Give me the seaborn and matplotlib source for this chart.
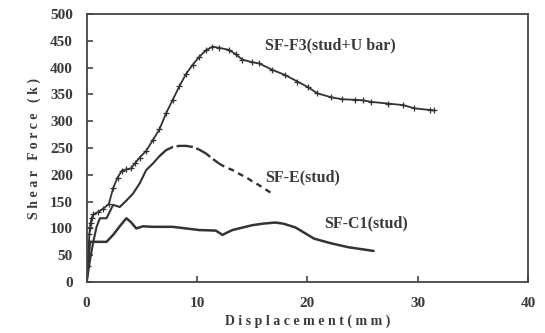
import matplotlib
matplotlib.use("Agg")
import matplotlib.pyplot as plt
import pandas as pd
import seaborn as sns

# SF-F3 (stud + U bar)
f3_x = [0, 0.1, 0.15, 0.2, 0.25, 0.3, 0.35, 0.45, 0.6, 1.0, 1.5, 2.0, 2.4, 2.8,
        3.2, 3.6, 4.0, 4.4, 4.8, 5.4, 6.0, 6.6, 7.2, 7.8, 8.4, 9.0, 9.6, 10.2,
        10.8, 11.4, 12.0, 12.9, 13.5, 14.1, 15.0, 15.6, 16.8, 18.0, 19.1, 20.1,
        20.9, 22.1, 23.1, 24.3, 25.0, 25.8, 27.3, 28.7, 29.7, 31.1, 31.5]
f3_y = [0, 30, 55, 75, 90, 100, 110, 120, 126, 130, 137, 145, 175, 195,
        208, 210, 212, 222, 232, 245, 265, 285, 315, 340, 365, 388, 405, 420,
        432, 439, 437, 433, 425, 415, 410, 408, 396, 386, 374, 363,
        352, 345, 341, 340, 339, 336, 333, 330, 324, 321, 320]

# SF-E (stud)
e_x = [0, 0.3, 0.6, 0.9, 1.2, 1.8, 2.4, 3.0, 3.6, 4.2, 4.8, 5.4, 6.0, 6.6,
       7.2, 7.8, 8.4, 9.0, 9.6, 10.2, 10.8, 11.4, 12.0, 12.6, 13.2, 13.8,
       14.4, 15.0, 15.6, 16.2, 16.8]
e_y = [0, 40, 75, 103, 119, 119, 144, 140, 152, 165, 184, 209, 221, 235,
       246, 252, 254, 254, 252, 247, 240, 230, 221, 214, 209, 202,
       196, 188, 181, 173, 165]

# SF-C1 (stud)
c1_x = [0, 0.15, 0.3, 1.8, 2.4, 3.0, 3.6, 4.0, 4.5, 5.1, 6.0, 7.8, 9.0, 10.2,
        11.7, 12.3, 13.2, 14.0, 15.0, 16.0, 17.1, 17.8, 18.9, 19.8, 20.6,
        22.2, 23.7, 26.0]
c1_y = [0, 40, 75, 75, 88, 104, 119, 112, 100, 104, 103, 103, 100, 97,
        96, 88, 97, 101, 106, 109, 111, 109, 102, 91, 81,
        72, 65, 58]

x_ticks = [0, 10, 20, 30, 40]
y_ticks = [0, 50, 100, 150, 200, 250, 300, 350, 400, 450, 500]

sns.set_theme(style="white")
plt.rcParams["font.family"] = ["Liberation Serif", "DejaVu Serif"]
plt.rcParams["font.weight"] = "bold"

line_color = "#333333"
text_color = "#3a3a3a"

fig = plt.figure(figsize=(5.45, 3.33), dpi=100)
ax = fig.add_axes([0.159, 0.153, 0.81, 0.805])

sns.lineplot(x=f3_x, y=f3_y, sort=False, color=line_color, linewidth=1.3,
             marker="+", markersize=5, markeredgewidth=0.9,
             markeredgecolor=line_color, ax=ax)

e_df = pd.DataFrame({"x": e_x, "y": e_y})
solid = e_df.iloc[:14]
long_dash = e_df.iloc[13:23]
short_dash = e_df.iloc[22:]
sns.lineplot(data=solid, x="x", y="y", sort=False, color=line_color, linewidth=1.5, ax=ax)
sns.lineplot(data=long_dash, x="x", y="y", sort=False, color=line_color, linewidth=1.7, ax=ax)
ax.lines[-1].set_dashes((7, 1.5))
sns.lineplot(data=short_dash, x="x", y="y", sort=False, color=line_color, linewidth=1.7, ax=ax)
ax.lines[-1].set_dashes((2.5, 2))

sns.lineplot(x=c1_x, y=c1_y, sort=False, color=line_color, linewidth=1.8, ax=ax)

label_kw = dict(fontsize=11.5, fontweight="bold", color=text_color, va="center")
ax.text(16.2, 442, "SF-F3(stud+U bar)", **label_kw)
ax.text(16.2, 196, "SF-E(stud)", **label_kw)
ax.text(21.5, 110, "SF-C1(stud)", **label_kw)

ax.set_xlim(0, 40)
ax.set_ylim(0, 500)
ax.set_xticks(x_ticks)
ax.set_yticks(y_ticks)
ax.tick_params(axis="both", direction="in", length=4, width=1.2, color="#444444",
               labelsize=11, labelcolor=text_color, bottom=True, left=True)
ax.tick_params(axis="x", pad=11)
ax.tick_params(axis="y", pad=10)
for label in ax.get_xticklabels() + ax.get_yticklabels():
    label.set_fontweight("bold")

for spine in ax.spines.values():
    spine.set_color("#444444")
    spine.set_linewidth(1.3)

ax.set_xlabel("D i s p l a c e m e n t ( m m )", fontsize=10, fontweight="bold",
              color=text_color, labelpad=3)
ax.set_ylabel("S h e a r   F o r c e   ( k )", fontsize=10, fontweight="bold",
              color=text_color, labelpad=6)

fig.savefig("out.png", dpi=100)
plt.close(fig)
